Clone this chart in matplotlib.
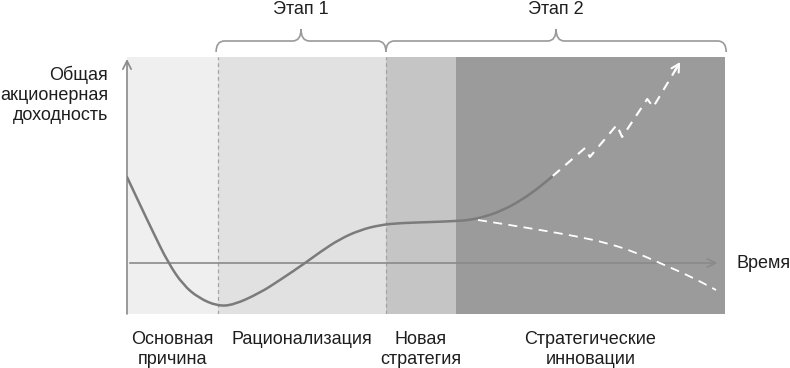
import matplotlib
matplotlib.use("Agg")
import matplotlib.pyplot as plt
from matplotlib.path import Path
from matplotlib.patches import PathPatch
from matplotlib.transforms import blended_transform_factory

plt.rcParams['font.family'] = ['Liberation Sans', 'DejaVu Sans']

# ---- data ----
phase_bounds = [0, 15.2, 43.3, 55.0, 100]
phase_colors = ['#efefef', '#e1e1e1', '#c5c5c5', '#9b9b9b']
phase_labels = ['Основная\nпричина', 'Рационализация', 'Новая\nстратегия', 'Стратегические\nинновации']
stage_labels = ['Этап 1', 'Этап 2']
stage_bounds = [(14.9, 43.3), (43.3, 100.2)]

curve_t = [0, 2.2, 4.35, 6.9, 9.4, 12.0, 15.1, 17.8, 22.2, 25.6, 29.8, 32.3,
           35.6, 39.0, 42.3, 45.7, 51.2, 55.0, 57.4, 60.2, 62.9, 65.7, 68.6, 71.2]
curve_r = [8.6, 5.8, 3.1, 0, -2.2, -3.5, -4.3, -4.2, -3.0, -1.7, 0, 1.1,
           2.4, 3.3, 3.8, 4.0, 4.1, 4.2, 4.3, 4.7, 5.3, 6.2, 7.4, 8.7]

up_t = [71.2, 76.6, 77.4, 81.9, 82.8, 87.0, 88.0, 92.5]
up_r = [8.7, 11.5, 10.6, 13.8, 12.6, 16.4, 15.6, 20.1]

down_t = [58.7, 64.0, 69.1, 74.9, 80.3, 84.9, 89.1, 94.1, 98.5]
down_r = [4.3, 3.8, 3.3, 2.7, 2.0, 1.1, 0.0, -1.3, -2.7]

y_label = 'Общая\nакционерная\nдоходность'
x_label = 'Время'


def smooth_path(xs, ys):
    """Path through the first/last point, using interior points as quadratic control points."""
    pts = list(zip(xs, ys))
    verts = [pts[0]]
    codes = [Path.MOVETO]
    mids = [((pts[i][0] + pts[i + 1][0]) / 2, (pts[i][1] + pts[i + 1][1]) / 2)
            for i in range(len(pts) - 1)]
    verts.append(mids[0]); codes.append(Path.LINETO)
    for i in range(1, len(pts) - 1):
        verts += [pts[i], mids[i]]
        codes += [Path.CURVE3, Path.CURVE3]
    verts.append(pts[-1]); codes.append(Path.LINETO)
    return Path(verts, codes)


# ---- figure ----
W, H = 790, 368
fig = plt.figure(figsize=(W / 100, H / 100), dpi=100)
ov = fig.add_axes([0, 0, 1, 1], zorder=0)
ov.set_xlim(0, W)
ov.set_ylim(H, 0)
ov.axis('off')

ax = fig.add_axes([127 / W, (H - 314) / H, 598 / W, (314 - 57) / H], zorder=1)
ax.set_xlim(0, 100)
ax.set_ylim(-5.1, 20.6)
ax.axis('off')
ax.patch.set_alpha(0)

for i, c in enumerate(phase_colors):
    ax.axvspan(phase_bounds[i], phase_bounds[i + 1], color=c, lw=0, zorder=0)
for b in phase_bounds[1:3]:
    ax.axvline(b, color='#a3a3a3', lw=0.9, ls=(0, (3, 2.5)), zorder=1)

axis_col = '#8a8a8a'
ax.annotate('', xy=(99.2, 0), xytext=(0, 0),
            arrowprops=dict(arrowstyle='->,head_length=0.6,head_width=0.3', color=axis_col, lw=1.2),
            zorder=2)
ax.annotate('', xy=(0, 20.4), xytext=(0, -5.1),
            arrowprops=dict(arrowstyle='->,head_length=0.6,head_width=0.3', color=axis_col, lw=1.2,
                            shrinkA=0, shrinkB=0),
            zorder=2)

# curves
ax.add_patch(PathPatch(smooth_path(curve_t, curve_r), fill=False, edgecolor='#7b7b7b',
                       lw=1.8, capstyle='round', joinstyle='round', zorder=3))
ax.add_patch(PathPatch(smooth_path(down_t, down_r), fill=False, edgecolor='white',
                       lw=1.3, ls=(0, (5, 3.5)), zorder=3))
ax.plot(up_t, up_r, color='white', lw=1.5, ls=(0, (4.5, 3.5)), zorder=3)
tip = (up_t[-1], up_r[-1])
back = (up_t[-1] - 0.2 * (up_t[-1] - up_t[-2]), up_r[-1] - 0.2 * (up_r[-1] - up_r[-2]))
ax.annotate('', xy=tip, xytext=back,
            arrowprops=dict(arrowstyle='->,head_length=0.55,head_width=0.3', color='white', lw=1.5,
                            shrinkA=0, shrinkB=0),
            zorder=4)

txt_col = '#1e1e1e'
fs = 13
for i, lab in enumerate(phase_labels):
    mid = (phase_bounds[i] + phase_bounds[i + 1]) / 2
    ax.text(mid, -6.8, lab, ha='center', va='top', fontsize=fs, color=txt_col,
            linespacing=1.25, clip_on=False)

ov.text(108, 95, y_label, ha='right', va='center', fontsize=fs, color=txt_col, linespacing=1.25)
ov.text(736, 263, x_label, ha='left', va='center', fontsize=fs, color=txt_col)

# braces
bt = blended_transform_factory(ax.transData, ov.transData)
y_end, y_flat, y_tip = 52, 41, 29
rx = 1.4
for (a, b), lab in zip(stage_bounds, stage_labels):
    c = (a + b) / 2
    verts = [(a, y_end), (a, y_flat), (a + rx, y_flat),
             (c - rx, y_flat), (c, y_flat), (c, y_tip),
             (c, y_flat), (c + rx, y_flat),
             (b - rx, y_flat), (b, y_flat), (b, y_end)]
    codes = [Path.MOVETO, Path.CURVE3, Path.CURVE3,
             Path.LINETO, Path.CURVE3, Path.CURVE3,
             Path.CURVE3, Path.CURVE3,
             Path.LINETO, Path.CURVE3, Path.CURVE3]
    ov.add_patch(PathPatch(Path(verts, codes), transform=bt, fill=False,
                           edgecolor='#9a9a9a', lw=1.2, clip_on=False))
    ov.text(c, 10, lab, transform=bt, ha='center', va='center', fontsize=fs, color=txt_col)

fig.savefig('out.png', dpi=100)
